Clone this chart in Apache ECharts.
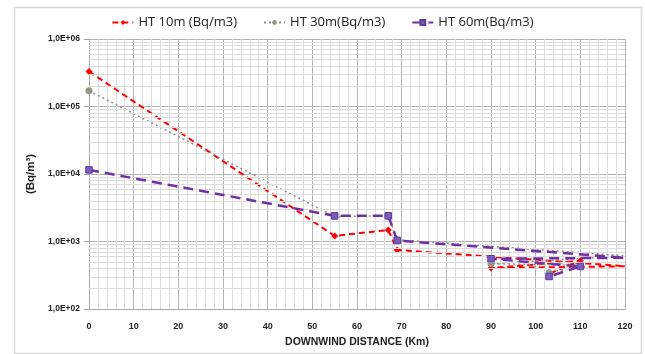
<!DOCTYPE html>
<html>
<head>
<meta charset="utf-8">
<script src="https://cdn.jsdelivr.net/npm/echarts@6/dist/echarts.min.js"></script>
<style>
  html, body { margin: 0; padding: 0; background: #fff; }
  #chart { width: 645px; height: 354px; }
</style>
</head>
<body>
<div id="chart"></div>
<script>
// Downwind distance of each sample (km), in recorded order
const distanceKm = [0, 55, 67, 69, 120, 90, 110, 103];
// HT concentration (Bq/m3) at three release heights
const ht10m = [330000, 1210, 1480, 750, 430, 404, 518, 332];
const ht30m = [171000, 2350, 2400, 1060, 614, 468, 445, 344];
const ht60m = [11500, 2400, 2400, 1035, 574, 555, 427, 303];

const seriesNames = ['HT 10m (Bq/m3)', 'HT 30m(Bq/m3)', 'HT 60m(Bq/m3)'];
const yTickValues = [100, 1000, 10000, 100000, 1000000];

// Minor horizontal grid values (2..9 within each decade)
const minorGridValues = [];
for (let d = 0; d < yTickValues.length - 1; d++) {
  for (let m = 2; m <= 9; m++) minorGridValues.push(m * yTickValues[d]);
}

function pairs(ys) {
  return distanceKm.map((x, i) => {
    const item = { value: [x, ys[i]] };
    if (x === 120) item.symbol = 'none';
    return item;
  });
}

function sciLabel(v) {
  const e = Math.round(Math.log10(v));
  return '1,0E+' + (e < 10 ? '0' + e : e);
}

const chart = echarts.init(document.getElementById('chart'), null, { renderer: 'canvas' });

chart.setOption({
  animation: false,
  backgroundColor: '#ffffff',
  textStyle: { fontFamily: 'Open Sans, Noto Sans, sans-serif' },
  graphic: [{
    type: 'rect',
    left: 12, top: 5,
    shape: { width: 627, height: 346 },
    style: { fill: 'none', stroke: '#d9d9d9', lineWidth: 1.5 },
    silent: true
  }],
  legend: {
    top: 11,
    left: 'center',
    itemWidth: 21,
    itemHeight: 6,
    itemGap: 26,
    textStyle: { fontSize: 13, color: '#222', fontFamily: 'Open Sans, Noto Sans, sans-serif' },
    data: seriesNames
  },
  grid: { left: 89, right: 20, top: 39, bottom: 45 },
  xAxis: {
    type: 'value',
    min: 0, max: 120, interval: 10,
    name: 'DOWNWIND DISTANCE (Km)',
    nameLocation: 'middle',
    nameGap: 28,
    nameTextStyle: { fontSize: 10.5, fontWeight: 'bold', color: '#222', fontFamily: 'Liberation Sans, Arial, sans-serif' },
    axisLine: { show: true, lineStyle: { color: '#a6a6a6', width: 1 } },
    axisTick: { show: false },
    axisLabel: { fontSize: 9, fontWeight: 'bold', color: '#222', margin: 13, fontFamily: 'Liberation Sans, Arial, sans-serif' },
    splitLine: { show: true, lineStyle: { color: '#b3b3b3', width: 1 } },
    minorTick: { show: false, splitNumber: 5 },
    minorSplitLine: { show: true, lineStyle: { color: '#dcdcdc', width: 1 } }
  },
  yAxis: {
    type: 'log',
    logBase: 10,
    min: 100, max: 1000000,
    name: '(Bq/m\u00B3)',
    nameLocation: 'middle',
    nameRotate: 90,
    nameGap: 51,
    nameTextStyle: { fontSize: 11.5, fontWeight: 'bold', color: '#222', fontFamily: 'Liberation Sans, Arial, sans-serif' },
    axisLine: { show: true, lineStyle: { color: '#a6a6a6', width: 1 } },
    axisTick: { show: true, inside: false, length: 5, lineStyle: { color: '#a6a6a6' } },
    axisLabel: { fontSize: 8.5, fontWeight: 'bold', color: '#222', margin: 9, formatter: sciLabel, fontFamily: 'Liberation Sans, Arial, sans-serif' },
    splitLine: { show: true, lineStyle: { color: '#b3b3b3', width: 1 } }
  },
  series: [
    {
      // Minor log grid lines
      type: 'line',
      data: [],
      silent: true,
      markLine: {
        silent: true,
        symbol: 'none',
        label: { show: false },
        lineStyle: { color: '#dcdcdc', width: 1, type: 'solid' },
        data: minorGridValues.map(v => ({ yAxis: v }))
      },
      z: 1
    },
    {
      name: seriesNames[0],
      type: 'line',
      data: pairs(ht10m),
      color: '#ff0000',
      symbol: 'diamond',
      symbolSize: 7,
      lineStyle: { color: '#ff0000', width: 2, type: [6, 4] },
      itemStyle: { color: '#ff0000' },
      z: 3
    },
    {
      name: seriesNames[1],
      type: 'line',
      data: pairs(ht30m),
      color: '#8f9a85',
      symbol: 'circle',
      symbolSize: 7,
      lineStyle: { color: '#8c8c8c', width: 1.5, type: [2, 3] },
      itemStyle: { color: '#8f9a85' },
      z: 4
    },
    {
      name: seriesNames[2],
      type: 'line',
      data: pairs(ht60m),
      color: '#7a5cc0',
      symbol: 'rect',
      symbolSize: 6.5,
      lineStyle: { color: '#7030a0', width: 2.5, type: [10, 6] },
      itemStyle: { color: '#7a5cc0', borderColor: '#5a3d9a', borderWidth: 1 },
      z: 5
    }
  ]
});
</script>
</body>
</html>
